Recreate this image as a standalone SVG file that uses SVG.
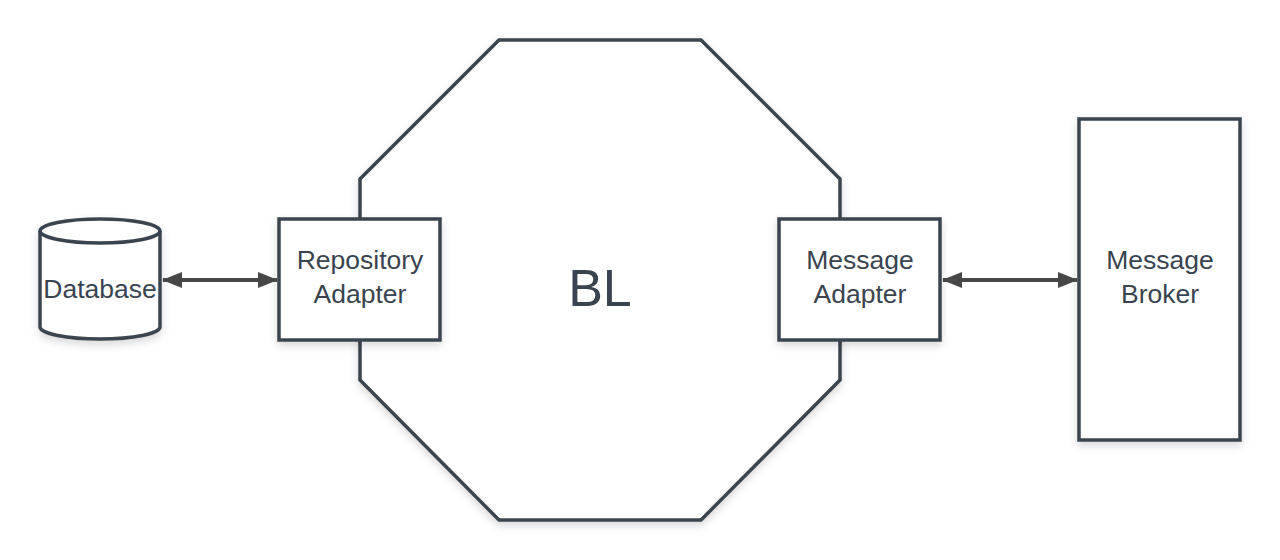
<svg xmlns="http://www.w3.org/2000/svg" width="1280" height="560" viewBox="0 0 1280 560">
<defs>
<filter id="sh" x="-20%" y="-20%" width="140%" height="140%">
<feDropShadow dx="0" dy="4" stdDeviation="4" flood-color="#000" flood-opacity="0.15"/>
</filter>
<marker id="ah" viewBox="0 0 20 16" refX="19" refY="8" markerWidth="20" markerHeight="16" markerUnits="userSpaceOnUse" orient="auto-start-reverse">
<path d="M0,0 L20,8 L0,16 Z" fill="#474747"/>
</marker>
<style>
.s{fill:#fff;stroke:#3a4450;stroke-width:3.5;filter:url(#sh)}
.t{font-family:"Liberation Sans",Arial,sans-serif;font-size:26.5px;fill:#3a4450;text-anchor:middle}
.c{stroke:#474747;stroke-width:4;fill:none}
</style>
</defs>
<rect width="1280" height="560" fill="#fff"/>
<g id="bl">
<polygon class="s" points="499,40 701,40 840,179 840,380 701,520 499,520 360,380 360,179"/>
<text class="t" x="600" y="306" style="font-size:52px">BL</text>
</g>
<g id="repo">
<rect class="s" x="279" y="219" width="161" height="121"/>
<text class="t" x="360" y="269">Repository</text>
<text class="t" x="360" y="303">Adapter</text>
</g>
<g id="msgadapter">
<rect class="s" x="779" y="219" width="161" height="121"/>
<text class="t" x="860" y="269">Message</text>
<text class="t" x="860" y="303">Adapter</text>
</g>
<g id="broker">
<rect class="s" x="1079" y="119" width="161" height="321"/>
<text class="t" x="1160" y="269">Message</text>
<text class="t" x="1160" y="303">Broker</text>
</g>
<g id="database">
<path class="s" d="M40,231 A60,12 0 0 1 160,231 L160,327 A60,12 0 0 1 40,327 Z"/>
<path d="M40,231 A60,12 0 0 0 160,231" fill="none" stroke="#3a4450" stroke-width="3.5"/>
<text class="t" x="100" y="298">Database</text>
</g>
<g id="connectors">
<line class="c" x1="163" y1="280" x2="277" y2="280" marker-start="url(#ah)" marker-end="url(#ah)"/>
<line class="c" x1="943" y1="280" x2="1077" y2="280" marker-start="url(#ah)" marker-end="url(#ah)"/>
</g>
</svg>
